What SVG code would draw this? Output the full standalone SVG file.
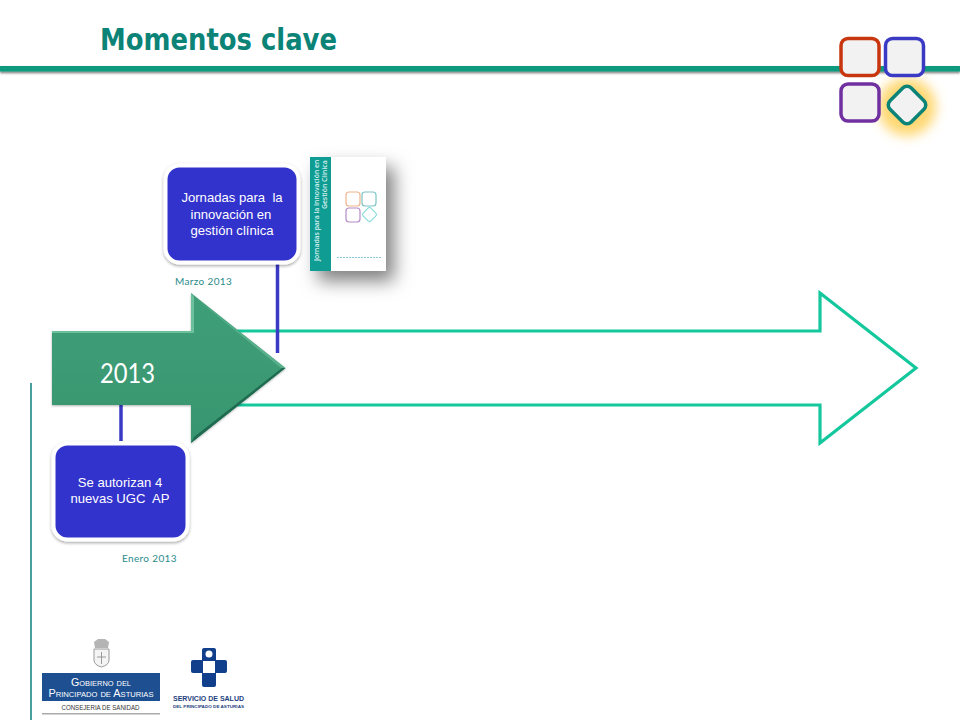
<svg xmlns="http://www.w3.org/2000/svg" width="960" height="720" viewBox="0 0 960 720">
<style>
.box{fill:#3333cc;stroke:#fff;stroke-width:4;filter:url(#boxShadow)}
.boxText{font-family:"Liberation Sans",Arial,sans-serif;font-size:13.100px;fill:#fff;text-anchor:middle}
.date{font-family:"Lato","Liberation Sans",sans-serif;font-size:10px;fill:#2a8a8a;letter-spacing:.35px}
.conn{stroke:#3a3ac4;stroke-width:3.500;fill:none}
.sq{fill:#f2f2f2;stroke-width:3.500}
</style>
<defs>
<filter id="boxShadow" x="-20%" y="-20%" width="140%" height="140%"><feDropShadow dx="0" dy="1.500" stdDeviation="1.800" flood-color="#000" flood-opacity=".35"/></filter>
<filter id="barShadow" x="-2%" y="-50%" width="104%" height="250%"><feDropShadow dx="0" dy="1.500" stdDeviation="1" flood-color="#000" flood-opacity=".55"/></filter>
<filter id="coverShadow" x="-40%" y="-30%" width="200%" height="170%"><feDropShadow dx="8" dy="10" stdDeviation="9" flood-color="#000" flood-opacity=".5"/></filter>
<filter id="arrowShadow" x="-10%" y="-10%" width="120%" height="120%"><feDropShadow dx="0" dy="1" stdDeviation="1" flood-color="#000" flood-opacity=".3"/></filter>
<filter id="soft" x="-60%" y="-60%" width="220%" height="220%"><feGaussianBlur stdDeviation="6"/></filter>
<linearGradient id="arrowFill" x1="0" y1="0" x2="0" y2="1"><stop offset="0" stop-color="#3f9f78"/><stop offset="1" stop-color="#38966f"/></linearGradient>
</defs>
<rect width="960" height="720" fill="#fff"/>

<g id="header">
<rect x="0" y="66" width="960" height="5.500" fill="#0f9a7e" filter="url(#barShadow)"/>
<text x="100" y="50" font-family="'DejaVu Sans','Liberation Sans',sans-serif" font-weight="700" font-size="30" fill="#0b8377" textLength="237" lengthAdjust="spacingAndGlyphs">Momentos clave</text>
</g>

<g id="logo-squares">
<circle cx="907" cy="107" r="29" fill="#ffd873" filter="url(#soft)"/>
<rect class="sq" x="841" y="38.500" width="38" height="37" rx="7" stroke="#c8360f"/>
<rect class="sq" x="885.500" y="38.500" width="38" height="37" rx="7" stroke="#3a3ac4"/>
<rect class="sq" x="841" y="84" width="38" height="37" rx="7" stroke="#7030a0"/>
<rect class="sq" x="892" y="90" width="30" height="30" rx="6" stroke="#0b8377" transform="rotate(45 907 105)"/>
</g>

<g id="left-rule"><line x1="31" y1="383" x2="31" y2="720" stroke="#0e7f7f" stroke-width="1.500"/></g>

<g id="outline-arrow">
<path d="M237 331H820V293L916 368L820 443V405H237" fill="none" stroke="#14c79c" stroke-width="3.200"/>
</g>

<g id="connectors">
<line class="conn" x1="277.500" y1="262" x2="277.500" y2="353"/>
<line class="conn" x1="121" y1="404" x2="121" y2="441"/>
</g>

<g id="arrow-2013">
<path d="M52 331H191V293L285.500 368L191 443V405H52Z" fill="url(#arrowFill)" filter="url(#arrowShadow)"/>
<path d="M52 333V331H191V293L194 297V333Z" fill="#6cc09c"/>
<path d="M191 443L285.500 368L282 368L194 437Z" fill="#1f6a50"/>
<path d="M194 297L285.500 368L281 368Z" fill="#6cc09c" opacity=".6"/>
<text x="100" y="383" font-family="Lato,'Liberation Sans',sans-serif" font-size="26" fill="#fff" textLength="55" lengthAdjust="spacingAndGlyphs">2013</text>
</g>

<g id="node-jornadas">
<rect class="box" x="165.500" y="165.500" width="133" height="97" rx="14"/>
<text class="boxText" x="232" y="202" xml:space="preserve">Jornadas para  la</text>
<text class="boxText" x="231" y="218.500">innovación en</text>
<text class="boxText" x="232" y="235">gestión clínica</text>
<text class="date" x="175" y="285">Marzo 2013</text>
</g>

<g id="cover">
<rect x="310" y="157" width="76" height="114" fill="#fff" filter="url(#coverShadow)"/>
<rect x="310" y="157" width="21" height="114" fill="#0e9c93"/>
<text transform="translate(318.500 261) rotate(-90)" font-family="'Open Sans','Liberation Sans',sans-serif" font-size="6.800" font-weight="600" fill="#d8f0ee">Jornadas para la Innovación en</text>
<text transform="translate(326.500 209) rotate(-90)" font-family="'Open Sans','Liberation Sans',sans-serif" font-size="6.800" font-weight="600" fill="#d8f0ee">Gestión Clínica</text>
<g fill="none" stroke-width="1.200">
<rect x="346" y="192" width="14" height="14" rx="3" stroke="#f0b48c"/>
<rect x="362" y="192" width="14" height="14" rx="3" stroke="#7cc4c4"/>
<rect x="346" y="208" width="14" height="14" rx="3" stroke="#b48cc8"/>
<rect x="364" y="209" width="11" height="11" rx="2" stroke="#8cdcdc" transform="rotate(45 369.500 214.500)"/>
</g>
<line x1="337" y1="257.500" x2="381" y2="257.500" stroke="#8cc8d8" stroke-width="1" stroke-dasharray="2 1"/>
</g>

<g id="node-ugc">
<rect class="box" x="53.500" y="443.500" width="134" height="96" rx="14"/>
<text class="boxText" x="120" y="487">Se autorizan 4</text>
<text class="boxText" x="120" y="503" xml:space="preserve">nuevas UGC  AP</text>
<text class="date" x="122" y="562">Enero 2013</text>
</g>

<g id="logo-asturias">
<path d="M94 649H109V660Q109 665 101.500 667Q94 665 94 660Z" fill="#f4f4f4" stroke="#9a9a9a" stroke-width="1"/>
<path d="M101.500 652V664M97 657H106" stroke="#9a9a9a" stroke-width="1"/>
<path d="M95 648L94 642L98 639H105L109 642L108 648Z" fill="#b4b4b4"/>
<rect x="42" y="673" width="118" height="28" fill="#1e4f91"/>
<text x="101" y="686" text-anchor="middle" font-family="'Liberation Sans',sans-serif" font-size="10" font-variant="small-caps" fill="#fff" textLength="60" lengthAdjust="spacingAndGlyphs">Gobierno del</text>
<text x="101" y="697" text-anchor="middle" font-family="'Liberation Sans',sans-serif" font-size="10" font-variant="small-caps" fill="#fff" textLength="105" lengthAdjust="spacingAndGlyphs">Principado de Asturias</text>
<text x="100.500" y="710" text-anchor="middle" font-family="'Liberation Sans',sans-serif" font-size="6.600" fill="#333" textLength="78" lengthAdjust="spacingAndGlyphs">CONSEJERIA DE SANIDAD</text>
<rect x="42" y="713" width="118" height="1.500" fill="#aaa"/>
</g>

<g id="logo-salud">
<path d="M204 648H214Q216 648 216 650V660H225Q227 660 227 662V671Q227 673 225 673H216V685Q216 687 214 687H204Q202 687 202 685V673H193Q191 673 191 671V662Q191 660 193 660H202V650Q202 648 204 648Z" fill="#123f8c"/>
<circle cx="209" cy="654" r="3.500" fill="#fff"/>
<rect x="203" y="661" width="12" height="12" fill="#fff"/>
<text x="208.500" y="701" text-anchor="middle" font-family="'Liberation Sans',sans-serif" font-weight="700" font-size="6.600" fill="#1e3f80" textLength="71" lengthAdjust="spacingAndGlyphs">SERVICIO DE SALUD</text>
<text x="208.500" y="708" text-anchor="middle" font-family="'Liberation Sans',sans-serif" font-weight="700" font-size="4.300" fill="#1e3f80" textLength="71" lengthAdjust="spacingAndGlyphs">DEL PRINCIPADO DE ASTURIAS</text>
</g>
</svg>
